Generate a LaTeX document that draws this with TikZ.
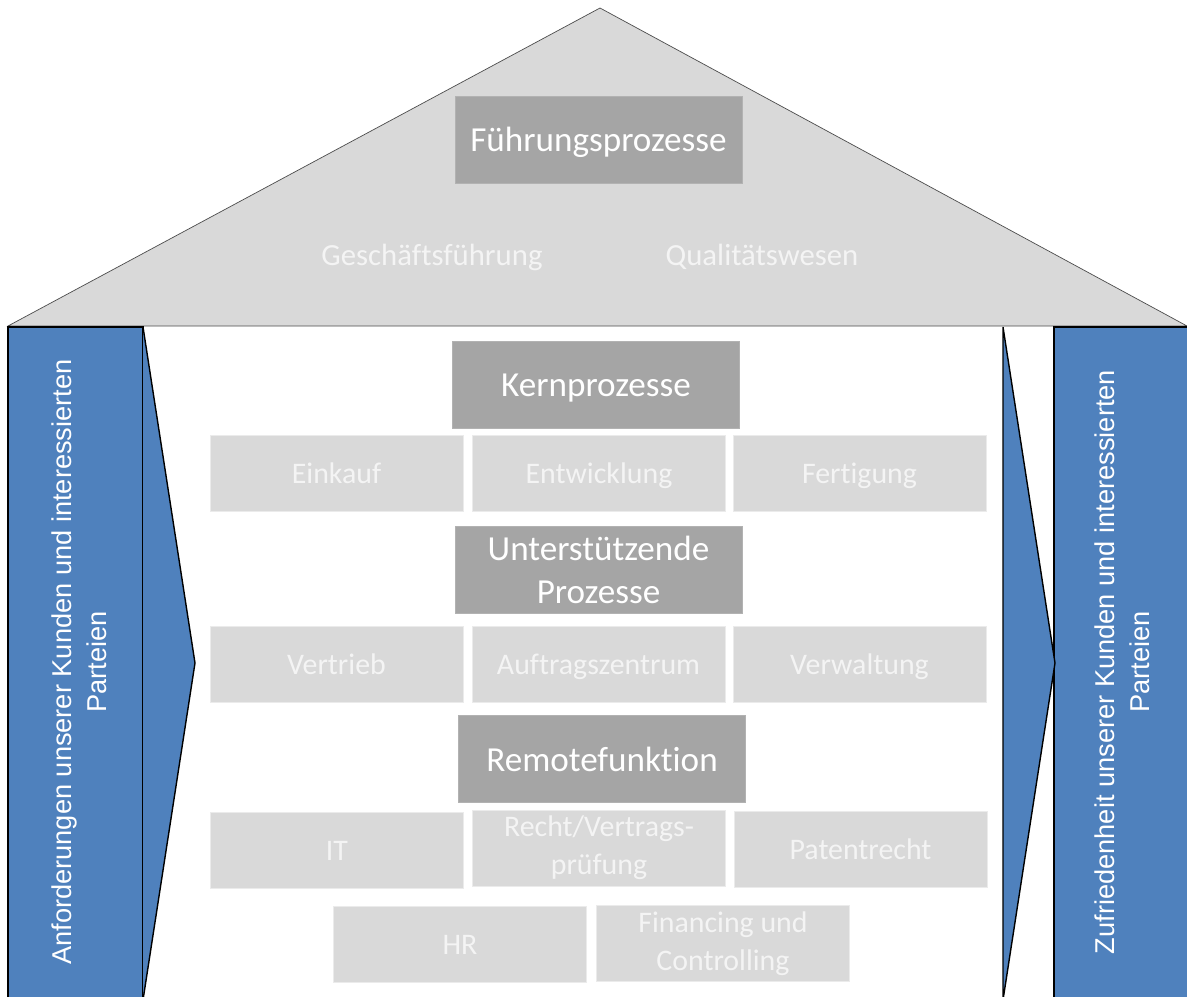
\documentclass[tikz,border=0pt]{standalone}
\usepackage{fontspec}
\setmainfont{Carlito}[Ligatures=NoCommon]
\newfontfamily\arialfont{Liberation Sans}
\usepackage{tikz}

\definecolor{roofgray}{HTML}{D9D9D9}
\definecolor{headgray}{HTML}{A5A5A5}
\definecolor{boxgray}{HTML}{D9D9D9}
\definecolor{boxline}{HTML}{EBEBEB}
\definecolor{pillar}{HTML}{4F81BD}
\definecolor{softwhite}{HTML}{F4F4F4}

\tikzset{
	head/.style={shape=rectangle, fill=headgray, draw=headgray!85!white, text=white,
		minimum width=5.74cm, minimum height=1.74cm, align=center, font=\fontsize{20}{24.5}\selectfont,
		text height=16pt, text depth=2pt},
	proc/.style={shape=rectangle, fill=boxgray, draw=boxline, text=softwhite,
		minimum width=5.06cm, minimum height=1.52cm, align=center, font=\fontsize{17}{21.5}\selectfont,
		text height=13.6pt, text depth=1.7pt},
	twolines/.style={text height={}, text depth={}},
	roofitem/.style={text=softwhite, font=\fontsize{17.5}{21}\selectfont},
	pillartext/.style={rotate=90, text=white, align=center, font=\arialfont\fontsize{15.5}{19.8}\selectfont}
}

\begin{document}
\begin{tikzpicture}[x=0.02cm, y=-0.02cm]
	\useasboundingbox (0,0) rectangle (1187,997);
	
	% roof
	\draw[fill=roofgray, draw=black!70] (8,326) -- (600,8) -- (1187,326) -- cycle;
	
	% pillars
	\draw[fill=pillar, draw=black, thick] (8,327) rectangle (143,1000);
	\draw[fill=pillar, draw=black, thick] (1054,327) rectangle (1190,1000);
	\draw[fill=pillar, draw=black, thick] (143,327) -- (195,663) -- (143,1000);
	\draw[fill=pillar, draw=black, thick] (1003,327) -- (1055,663) -- (1003,1000) -- cycle;
	
	\node[pillartext] (anf) at (79,662) {Anforderungen unserer Kunden und interessierten\\Parteien};
	\node[pillartext] (zuf) at (1122,662) {Zufriedenheit unserer Kunden und interessierten\\Parteien};
	
	\node[head] (fuehr) at (598.5,139.5) {Führungsprozesse};
	\node[roofitem] (gf) at (432,257) {Geschäftsführung};
	\node[roofitem] (qw) at (762,257) {Qualitätswesen};
	
	\node[head] (kern) at (596,384.5) {Kernprozesse};
	\node[proc] (einkauf) at (336.5,473) {Einkauf};
	\node[proc] (entw) at (599,473) {Entwicklung};
	\node[proc] (fert) at (859.5,473) {Fertigung};
	
	\node[head, twolines] (unterst) at (598.5,569.5) {Unterstützende\\Prozesse};
	\node[proc] (vertrieb) at (336.5,664) {Vertrieb};
	\node[proc] (auftrag) at (598.5,664) {Auftragszentrum};
	\node[proc] (verw) at (859.5,664) {Verwaltung};
	
	\node[head] (remote) at (602,759) {Remotefunktion};
	\node[proc] (it) at (337,850.5) {IT};
	\node[proc, twolines] (recht) at (599,848) {Recht/Vertrags-\\prüfung};
	\node[proc] (patent) at (860.5,849) {Patentrecht};
	
	\node[proc] (hr) at (460,944.5) {HR};
	\node[proc, twolines] (fin) at (723,943.5) {Financing und\\Controlling};
\end{tikzpicture}
\end{document}
